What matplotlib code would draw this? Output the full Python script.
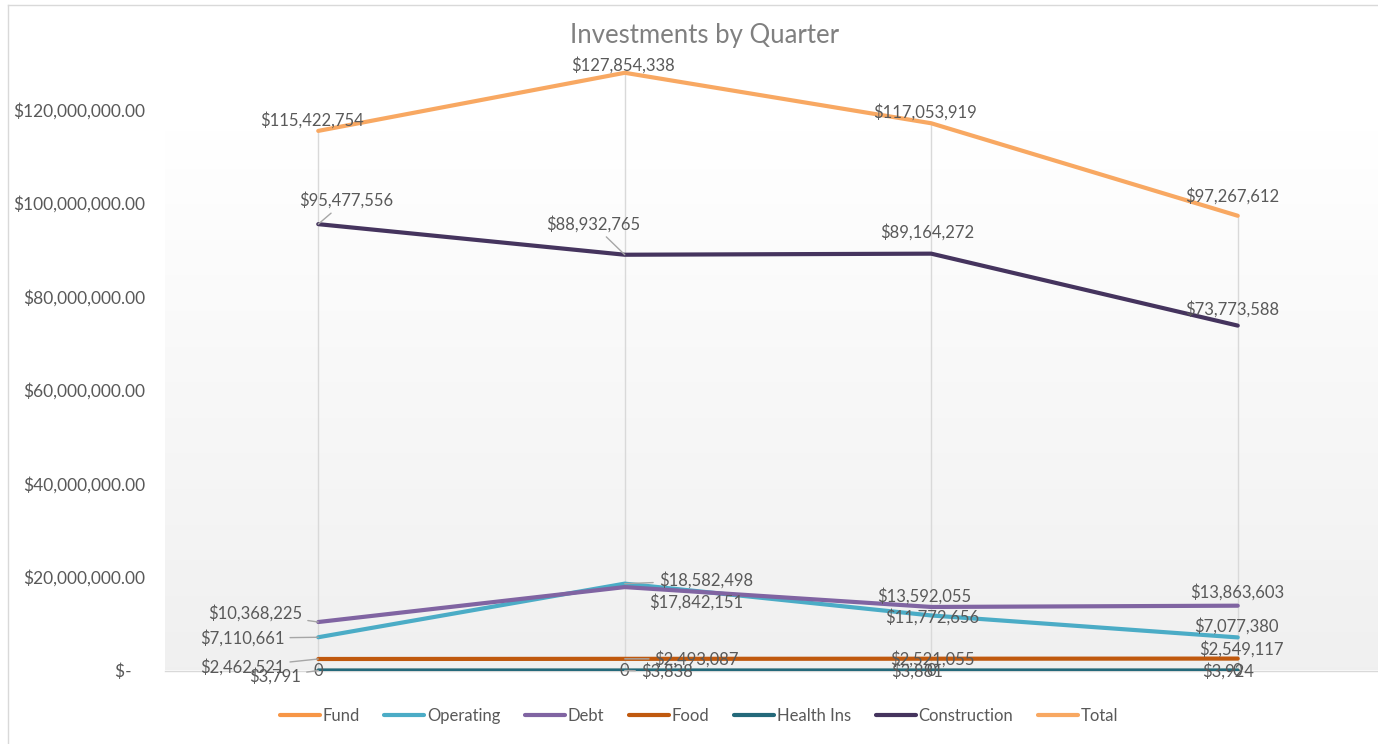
import matplotlib
matplotlib.use("Agg")
import matplotlib.pyplot as plt
import numpy as np
from matplotlib.lines import Line2D

# ---- data ----
quarters = ["Q1", "Q2", "Q3", "Q4"]
series_names = ["Fund", "Operating", "Debt", "Food", "Health Ins", "Construction", "Total"]
fund = [0, 0, 0, 0]
operating = [7110661, 18582498, 11772656, 7077380]
debt = [10368225, 17842151, 13592055, 13863603]
food = [2462521, 2493087, 2521055, 2549117]
health_ins = [3791, 3838, 3881, 3924]
construction = [95477556, 88932765, 89164272, 73773588]
total = [115422754, 127854338, 117053919, 97267612]
y_ticks = [0, 20000000, 40000000, 60000000, 80000000, 100000000, 120000000]

values = [fund, operating, debt, food, health_ins, construction, total]
colors = ["#F79646", "#4BACC6", "#8064A2", "#C0590E", "#24697A", "#45345E", "#F8A862"]

# label offsets (pixels) and leader-line flags per series per quarter
offsets = {
    "Fund": [(0, -1), (0, -1), (0, -1), (0, -1)],
    "Operating": [(-76, -1), (81, 3), (1, -2), (-1, 11)],
    "Debt": [(-63, 9), (71, -15), (-7, 11), (-1, 14)],
    "Food": [(-76, -8), (72, 0), (1, 0), (4, 9)],
    "Health Ins": [(-43, -6), (42, -1), (-14, -1), (-10, -1)],
    "Construction": [(28, 24), (-32, 31), (-4, 21), (-6, 16)],
    "Total": [(-6, 11), (-2, 8), (-6, 11), (-6, 20)],
}
leaders = {
    "Operating": [True, True, False, False],
    "Debt": [True, False, False, False],
    "Food": [True, True, False, False],
    "Health Ins": [True, True, False, False],
    "Construction": [True, True, False, False],
}

FONT = ["Lato", "DejaVu Sans"]
plt.rcParams["font.family"] = FONT
TXT = "#595959"

W, H = 1378, 744
fig = plt.figure(figsize=(W / 100, H / 100), dpi=100)
left_px, right_px, bottom_px, top_px = 165, 1391, 670.5, 16
ax = fig.add_axes([left_px / W, (H - bottom_px) / H,
                   (right_px - left_px) / W, (bottom_px - top_px) / H])
ax.set_xlim(-0.5, len(quarters) - 0.5)
ax.set_ylim(0, 140000000)

# gradient background
n = 256
ys = np.linspace(0, 1, n)  # 0 bottom -> 1 top
white_from = (bottom_px - 133) / (bottom_px - top_px)
t = np.clip(ys / white_from, 0, 1)
g = 0.941 + (1.0 - 0.941) * t
img = np.dstack([g[:, None].repeat(2, 1)] * 3)
ax.imshow(img, extent=[0, 1, 0, 1], transform=ax.transAxes, origin="lower",
          aspect="auto", zorder=0, interpolation="bilinear")

x = np.arange(len(quarters))
# drop lines
maxv = np.max(np.array(values), axis=0)
ax.vlines(x, 0, maxv, colors="#D9D9D9", lw=1, zorder=1)

for name, vals, col in zip(series_names, values, colors):
    ax.plot(x, vals, color=col, lw=3, label=name, zorder=3,
            solid_capstyle="round", solid_joinstyle="round")

for name, vals in zip(series_names, values):
    for i, v in enumerate(vals):
        dx, dy = offsets[name][i]
        lbl = "0" if v == 0 else "${:,}".format(v)
        lead = leaders.get(name, [False] * 4)[i]
        kw = {}
        if lead:
            kw["arrowprops"] = dict(arrowstyle="-", color="#A6A6A6", lw=1,
                                    shrinkA=2, shrinkB=0)
        ax.annotate(lbl, xy=(x[i], v), xytext=(dx, dy), textcoords="offset pixels",
                    ha="center", va="center", fontsize=12, color=TXT, zorder=5, **kw)

ax.set_yticks(y_ticks)
ax.set_yticklabels(["$-   " if v == 0 else "${:,.2f}".format(v) for v in y_ticks])
ax.set_xticks(x)
ax.set_xticklabels([""] * len(quarters))
ax.tick_params(axis="y", length=0, pad=14.4, labelsize=12.5, labelcolor=TXT)
ax.tick_params(axis="x", length=0)
for s in ["left", "right", "top"]:
    ax.spines[s].set_visible(False)
ax.spines["bottom"].set_color("#D9D9D9")
ax.spines["bottom"].set_linewidth(1)

fig.text(705 / W, 1 - 35 / H, "Investments by Quarter", ha="center", va="center",
         fontsize=18.5, color="#808080")

fig.legend(loc="center", bbox_to_anchor=(699 / W, 1 - 716 / H), ncol=7, frameon=False,
           fontsize=12, labelcolor=TXT, handlelength=2.4, handletextpad=0.15,
           columnspacing=1.5)

# chart border
fig.add_artist(Line2D([8 / W, 8 / W], [0, 1 - 5 / H], color="#D9D9D9", lw=1))
fig.add_artist(Line2D([8 / W, 1], [1 - 5 / H, 1 - 5 / H], color="#D9D9D9", lw=1))

fig.savefig("out.png", dpi=100)
